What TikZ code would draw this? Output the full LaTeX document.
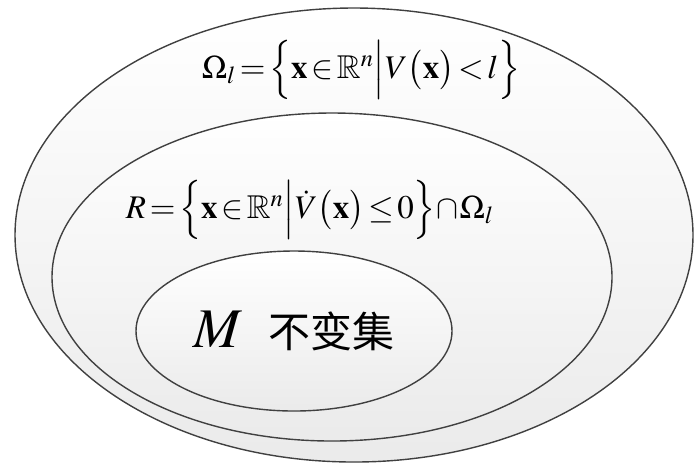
\documentclass[tikz,border=0pt]{standalone}
\usepackage{amssymb}
\usepackage{mathptmx}
\usepackage[no-math]{fontspec}
\setmainfont{Liberation Serif}
\newfontfamily\cjk{Noto Sans CJK SC}

\tikzset{
  setshape/.style={draw=black!75, line width=0.7pt, top color=white, bottom color=black!8},
  formula/.style={inner sep=0pt, font=\fontsize{16.5}{19}\selectfont},
}

\begin{document}
\begin{tikzpicture}[x=0.5pt,y=-0.5pt]
    \useasboundingbox (0,0) rectangle (694,463);

    % Nested sets
    \path[setshape] (354,235) ellipse [x radius=339, y radius=227];
    \path[setshape] (332,277) ellipse [x radius=280, y radius=164];
    \path[setshape] (294,331) ellipse [x radius=158, y radius=80];

    % Labels
    \node[formula] (omega) at (361,70)
        {$\Omega_l \!=\! \Bigl\{ \mathbf{x}\!\in\!\mathbb{R}^n \Big| V\bigl(\mathbf{x}\bigr) \!<\! l \Bigr\}$};
    \node[formula] (region) at (310,210)
        {$R \!=\! \Bigl\{ \mathbf{x}\!\in\!\mathbb{R}^n \Big| \dot{V}\bigl(\mathbf{x}\bigr) \!\leq\! 0 \Bigr\} \!\cap\! \Omega_l$};
    \node[inner sep=0pt, font=\fontsize{28}{30}\selectfont] (invar) at (294,331)
        {$M$\hspace{0.45em}{\cjk\fontsize{21}{24}\selectfont 不变集}};
\end{tikzpicture}
\end{document}
